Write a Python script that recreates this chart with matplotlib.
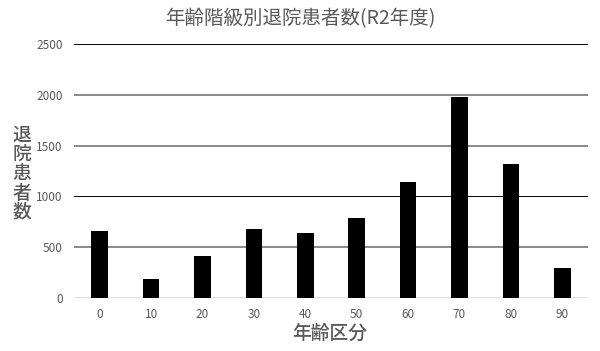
import matplotlib
matplotlib.use('Agg')
import matplotlib.pyplot as plt

plt.rcParams['font.family'] = ['Noto Sans CJK JP', 'DejaVu Sans']

age_groups = ['0', '10', '20', '30', '40', '50', '60', '70', '80', '90']
discharges = [662, 187, 410, 676, 640, 784, 1141, 1975, 1319, 292]
y_ticks = [0, 500, 1000, 1500, 2000, 2500]

title = '年齢階級別退院患者数(R2年度)'
x_title = '年齢区分'
y_title = '退院患者数'

text_color = '#595959'

fig = plt.figure(figsize=(6, 3.51), dpi=100)
ax = fig.add_axes([0.1233, 0.151, 0.8567, 0.7236])

ax.set_ylim(0, 2500)
ax.set_xlim(-0.5, len(age_groups) - 0.5)

# gridlines: the reference alternates a thin dark line and a thicker grey one
for v in y_ticks[1:]:
    if v in (1000, 2500):
        ax.axhline(v, color='#000000', lw=0.7, zorder=1)
    else:
        ax.axhline(v, color='#808080', lw=1.3, zorder=1)
ax.axhline(0, color='#d9d9d9', lw=1.2, zorder=1)

ax.bar(range(len(age_groups)), discharges, width=0.32, color='black', zorder=2)

ax.set_xticks(range(len(age_groups)))
ax.set_xticklabels(age_groups)
ax.set_yticks(y_ticks)
ax.tick_params(axis='both', length=0, labelsize=8.5, colors=text_color)
ax.tick_params(axis='x', pad=7)
ax.tick_params(axis='y', pad=8)
for s in ax.spines.values():
    s.set_visible(False)

fig.text(0.5, 0.947, title, ha='center', va='center', fontsize=14, color=text_color)
fig.text(0.55, 0.051, x_title, ha='center', va='center', fontsize=13.5, color=text_color,
         fontweight='medium')
fig.text(0.037, 0.505, '\n'.join(y_title), ha='center', va='center', fontsize=13.5,
         color=text_color, fontweight='medium', linespacing=1.02)

fig.savefig('out.png', dpi=100)
